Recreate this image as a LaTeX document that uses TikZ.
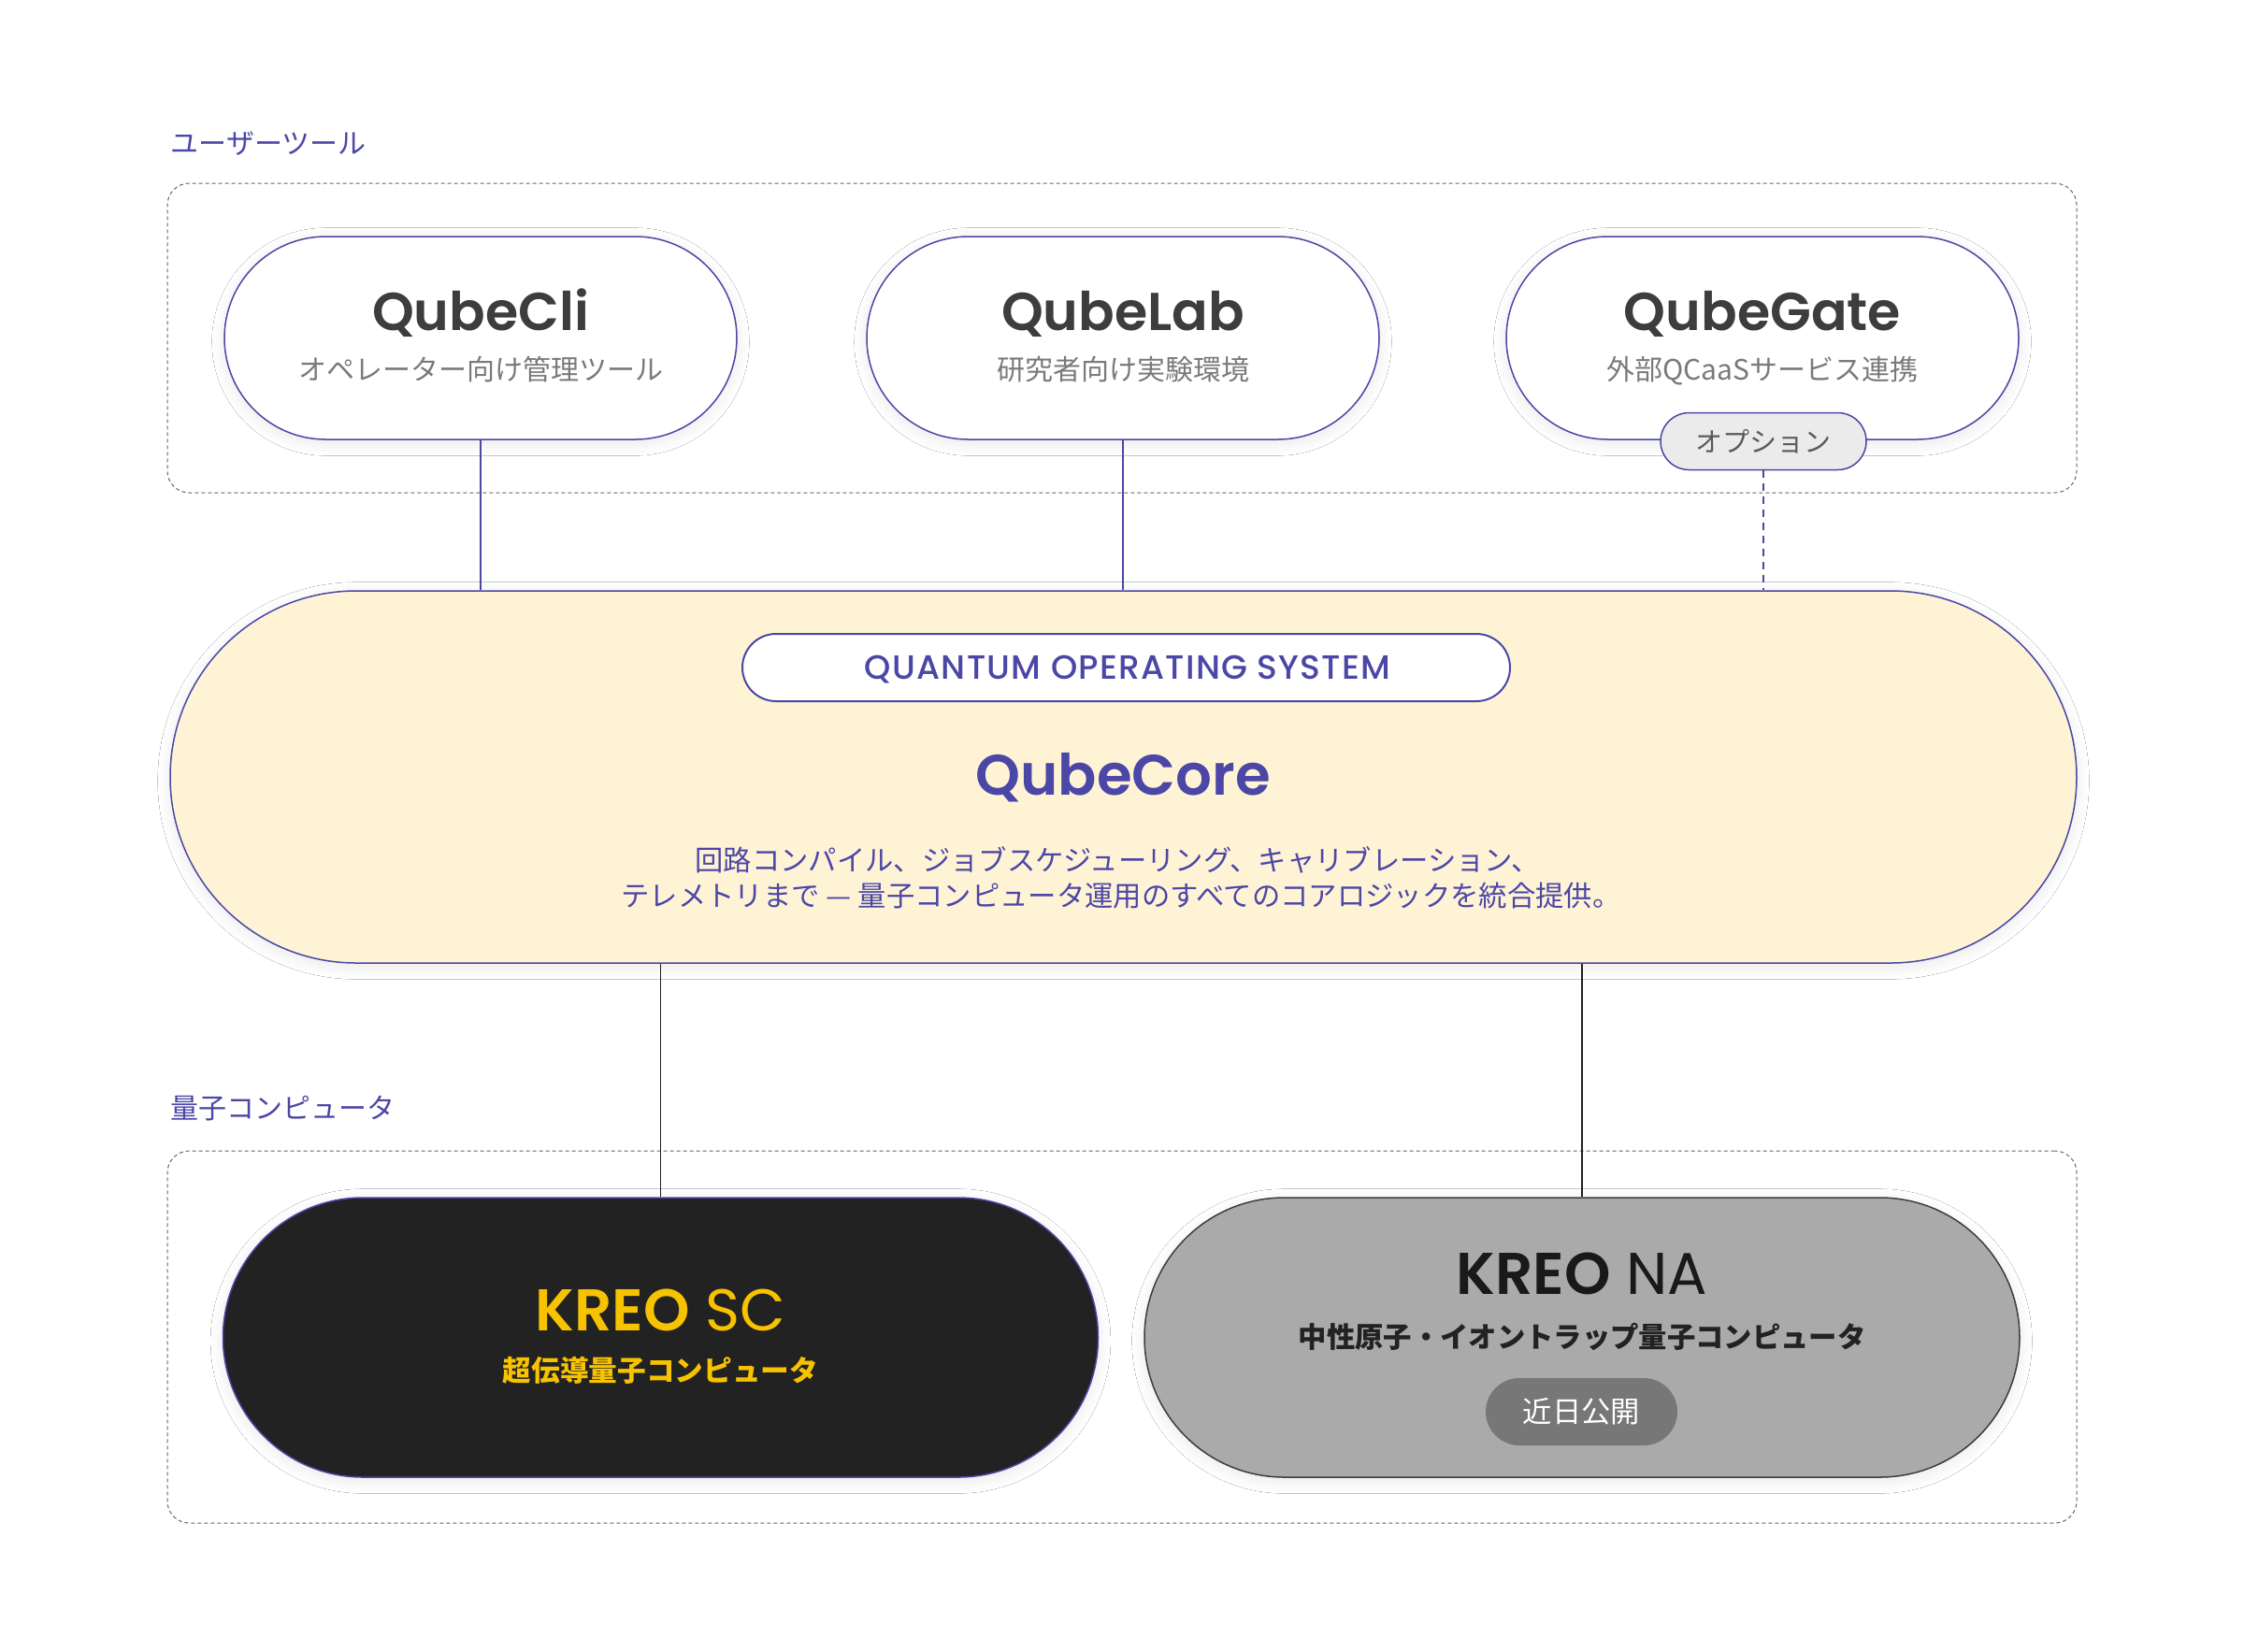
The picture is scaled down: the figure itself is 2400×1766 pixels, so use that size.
\documentclass[tikz,border=0pt]{standalone}
\usepackage{fontspec}
\setmainfont{Noto Sans CJK JP}
\newfontfamily\jp{Noto Sans CJK JP}
\newfontfamily\pop{Poppins}
\newfontfamily\popm{Poppins Medium}[LetterSpace=3.5]
\newfontfamily\popsb{Poppins SemiBold}
\usetikzlibrary{shapes.misc,shadows.blur}
\definecolor{qpurple}{HTML}{4B47A6}
\definecolor{qdark}{HTML}{3D3D3D}
\definecolor{qsub}{HTML}{7A7A7A}
\definecolor{qcream}{HTML}{FFF3D6}
\definecolor{qblack}{HTML}{222222}
\definecolor{qgold}{HTML}{F7C200}
\definecolor{qgrey}{HTML}{AAAAAA}
\definecolor{qpill}{HTML}{777777}
\definecolor{qopt}{HTML}{EBEBEB}
\definecolor{qdash}{HTML}{666666}
\def\pxu{0.3pt}
\newcommand\fs[1]{\fontsize{#1}{#1}\selectfont}
\begin{document}
\begin{tikzpicture}[x=0.3pt,y=-0.3pt,
  shd/.style={blur shadow={shadow xshift=0pt,shadow yshift=-1.2pt,shadow blur radius=4pt,shadow blur steps=16,shadow opacity=9}},
  grp/.style={draw=qdash,line width=0.3pt,dash pattern=on 1.2pt off 0.9pt,rounded corners=7pt,inner sep=0pt},
  grplabel/.style={text=qpurple,font=\jp\fs{9},inner sep=0pt},
  tool/.style={rounded rectangle,draw=qpurple,line width=0.45pt,fill=white,minimum width=548*\pxu,minimum height=217*\pxu,inner sep=0pt,shd},
  tooltitle/.style={text=qdark,font=\popsb\fs{17.1},inner sep=0pt,anchor=base},
  toolsub/.style={text=qsub,font=\jp\fs{9},inner sep=0pt,anchor=base},
  plink/.style={draw=qpurple,line width=0.6pt},
  dlink/.style={draw=qblack,line width=0.45pt},
  kreo/.style={rounded rectangle,line width=0.45pt,minimum width=936*\pxu,minimum height=299*\pxu,inner sep=0pt,shd}
]
\useasboundingbox[fill=white] (0,0) rectangle (2400,1766);

% group containers
\node[grp,minimum width=2042*\pxu,minimum height=331*\pxu] (usr) at (1200,361.5) {};
\node[grplabel,anchor=base west] (usrl) at (182,164) {ユーザーツール};
\node[grp,minimum width=2042*\pxu,minimum height=398*\pxu] (hw) at (1200,1430) {};
\node[grplabel,anchor=base west] (hwl) at (182,1196) {量子コンピュータ};

% user tools
\node[tool] (cli) at (514,361.5) {};
\node[tooltitle] (clit) at (514,353) {QubeCli};
\node[toolsub] (clis) at (514,406) {オペレーター向け管理ツール};

\node[tool] (lab) at (1201,361.5) {};
\node[tooltitle] (labt) at (1201,353) {QubeLab};
\node[toolsub] (labs) at (1201,406) {研究者向け実験環境};

\node[tool] (gate) at (1885,361.5) {};
\node[tooltitle] (gatet) at (1885,353) {QubeGate};
\node[toolsub] (gates) at (1885,406) {外部QCaaSサービス連携};
\node[rounded rectangle,draw=qpurple,line width=0.45pt,fill=qopt,minimum width=220*\pxu,minimum height=61*\pxu,inner sep=0pt,text=qdark!85,font=\jp\fs{8.7}] (opt) at (1886,472) {オプション};

% core
\node[rounded rectangle,draw=qpurple,line width=0.45pt,fill=qcream,minimum width=2039*\pxu,minimum height=398*\pxu,inner sep=0pt,shd] (core) at (1201.5,831) {};
\node[rounded rectangle,draw=qpurple,line width=0.6pt,fill=white,minimum width=821*\pxu,minimum height=72*\pxu,inner sep=0pt] (qos) at (1204.5,714) {};
\node[text=qpurple,font=\popm\fs{10.8},inner sep=0pt,anchor=base] (qost) at (1206,726) {QUANTUM OPERATING SYSTEM};
\node[text=qpurple,font=\popsb\fs{18.3},inner sep=0pt,anchor=base] (coret) at (1201,850) {QubeCore};
\node[text=qpurple,font=\jp\fs{9.1},inner sep=0pt,anchor=base] (cored1) at (1195,931) {回路コンパイル、ジョブスケジューリング、キャリブレーション、};
\node[text=qpurple,font=\jp\fs{9.1},inner sep=0pt,anchor=base] (cored2) at (1199,969) {テレメトリまで — 量子コンピュータ運用のすべてのコアロジックを統合提供。};

% quantum computers
\node[kreo,draw=qpurple,fill=qblack] (sc) at (706.5,1430.5) {};
\node[text=qgold,inner sep=0pt,anchor=base] (sct) at (706.5,1423) {\popsb\fs{18.9}KREO\pop\ SC};
\node[text=qgold,font=\jp\bfseries\fs{9.2},inner sep=0pt,anchor=base] (scs) at (706.5,1477) {超伝導量子コンピュータ};

\node[kreo,draw=qdark,fill=qgrey] (na) at (1692,1430.5) {};
\node[text=black!90,inner sep=0pt,anchor=base] (nat) at (1692,1384) {\popsb\fs{18.9}KREO\pop\ NA};
\node[text=qblack,font=\jp\bfseries\fs{9.1},inner sep=0pt,anchor=base] (nas) at (1692,1441) {中性原子・イオントラップ量子コンピュータ};
\node[rounded rectangle,fill=qpill,minimum width=205*\pxu,minimum height=72*\pxu,inner sep=0pt,text=white,font=\jp\fs{9.4}] (soon) at (1691.5,1510) {近日公開};

% connectors
\draw[plink] (cli.south) -- (cli.south |- core.north);
\draw[plink] (lab.south) -- (lab.south |- core.north);
\draw[plink,dash pattern=on 2.4pt off 1.8pt] (opt.south) -- (opt.south |- core.north);
\draw[dlink] (sc.north) -- (sc.north |- core.south);
\draw[dlink] (na.north) -- (na.north |- core.south);
\end{tikzpicture}
\end{document}
